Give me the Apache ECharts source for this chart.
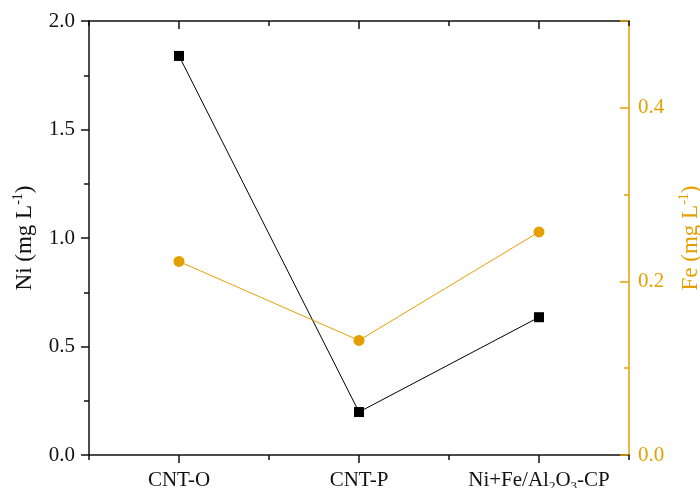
<!DOCTYPE html>
<html>
<head>
<meta charset="utf-8">
<script src="https://cdn.jsdelivr.net/npm/echarts@6/dist/echarts.min.js"></script>
<style>html,body{margin:0;padding:0;background:#fff}#c{width:700px;height:488px}</style>
</head>
<body>
<div id="c"></div>
<script>
var categories = ['CNT-O', 'CNT-P', 'Ni+Fe/Al2O3-CP'];
var niValues = [1.839, 0.198, 0.635];
var feValues = [0.223, 0.132, 0.257];
var niTicks = { min: 0, max: 2.0, interval: 0.5 };
var feTicks = { min: 0, max: 0.5, interval: 0.2 };

var FONT = 'Liberation Serif';
var ORANGE = '#E69F00';
var BLACK = '#111';

function catLabel(v) {
  if (v === 'Ni+Fe/Al2O3-CP') return '{a|Ni+Fe/Al}{b|2}{a|O}{b|3}{a|-CP}';
  return '{a|' + v + '}';
}
var catRich = {
  a: { fontFamily: FONT, fontSize: 21, color: BLACK, lineHeight: 24, verticalAlign: 'bottom' },
  b: { fontFamily: FONT, fontSize: 13, color: BLACK, lineHeight: 24, verticalAlign: 'bottom', padding: [0, 0, -2, 0] }
};
function nameRich(color) {
  return {
    a: { fontFamily: FONT, fontSize: 23, color: color, lineHeight: 27, verticalAlign: 'bottom' },
    s: { fontFamily: FONT, fontSize: 14, color: color, lineHeight: 27, verticalAlign: 'top', padding: [2, 0, 0, 0] }
  };
}

var chart = echarts.init(document.getElementById('c'));
chart.setOption({
  animation: false,
  grid: { left: 89, right: 71, top: 21, bottom: 33, containLabel: false, outerBoundsMode: 'none' },
  xAxis: [
    {
      type: 'category', data: categories, position: 'bottom', boundaryGap: true,
      axisLine: { show: true, lineStyle: { color: BLACK, width: 1.5 } },
      axisTick: { show: true, alignWithLabel: true, inside: false, length: 8, lineStyle: { color: BLACK, width: 1.5 } },
      axisLabel: { interval: 0, margin: 12, formatter: catLabel, rich: catRich, hideOverlap: false },
      splitLine: { show: false }
    },
    {
      type: 'category', data: categories, position: 'bottom', boundaryGap: true,
      axisLine: { show: false },
      axisTick: { show: true, interval: 0, inside: false, length: 5, lineStyle: { color: BLACK, width: 1.5 } },
      axisLabel: { show: false }, splitLine: { show: false }
    },
    {
      type: 'category', data: categories, position: 'top', boundaryGap: true,
      axisLine: { show: true, lineStyle: { color: BLACK, width: 1.5 } },
      axisTick: { show: true, interval: 0, alignWithLabel: true, inside: true, length: 8, lineStyle: { color: BLACK, width: 1.5 } },
      axisLabel: { show: false }, splitLine: { show: false }
    },
    {
      type: 'category', data: categories, position: 'top', boundaryGap: true,
      axisLine: { show: false },
      axisTick: { show: true, interval: 0, inside: true, length: 5, lineStyle: { color: BLACK, width: 1.5 } },
      axisLabel: { show: false }, splitLine: { show: false }
    }
  ],
  yAxis: [
    {
      type: 'value', position: 'left', min: niTicks.min, max: niTicks.max, interval: niTicks.interval,
      name: '{a|Ni (mg L}{s|-1}{a|)}', nameLocation: 'middle', nameGap: 53,
      nameTextStyle: { rich: nameRich(BLACK) },
      axisLine: { show: true, lineStyle: { color: BLACK, width: 1.5 } },
      axisTick: { show: true, inside: false, length: 8, lineStyle: { color: BLACK, width: 1.5 } },
      minorTick: { show: true, splitNumber: 2, length: 5, lineStyle: { color: BLACK, width: 1.5 } },
      axisLabel: { margin: 14, fontFamily: FONT, fontSize: 21, color: BLACK, formatter: function (v) { return v.toFixed(1); } },
      splitLine: { show: false }, minorSplitLine: { show: false }
    },
    {
      type: 'value', position: 'right', min: feTicks.min, max: feTicks.max, interval: feTicks.interval,
      name: '{a|Fe (mg L}{s|-1}{a|)}', nameLocation: 'middle', nameGap: 43, nameRotate: 90,
      nameTextStyle: { rich: nameRich(ORANGE) },
      axisLine: { show: true, lineStyle: { color: ORANGE, width: 1.5 } },
      axisTick: { show: true, inside: true, length: 9, lineStyle: { color: ORANGE, width: 1.5 } },
      minorTick: { show: true, splitNumber: 2, length: 5, lineStyle: { color: ORANGE, width: 1.5 } },
      axisLabel: { margin: 9, fontFamily: FONT, fontSize: 21, color: ORANGE, showMaxLabel: false, formatter: function (v) { return v.toFixed(1); } },
      splitLine: { show: false }, minorSplitLine: { show: false }
    }
  ],
  series: [
    {
      name: 'Ni', type: 'line', xAxisIndex: 0, yAxisIndex: 0, data: niValues,
      symbol: 'rect', symbolSize: 10,
      itemStyle: { color: '#000' }, lineStyle: { color: '#000', width: 1 }
    },
    {
      name: 'Fe', type: 'line', xAxisIndex: 0, yAxisIndex: 1, data: feValues,
      symbol: 'circle', symbolSize: 11,
      itemStyle: { color: ORANGE }, lineStyle: { color: ORANGE, width: 1 }
    }
  ]
});
</script>
</body>
</html>
